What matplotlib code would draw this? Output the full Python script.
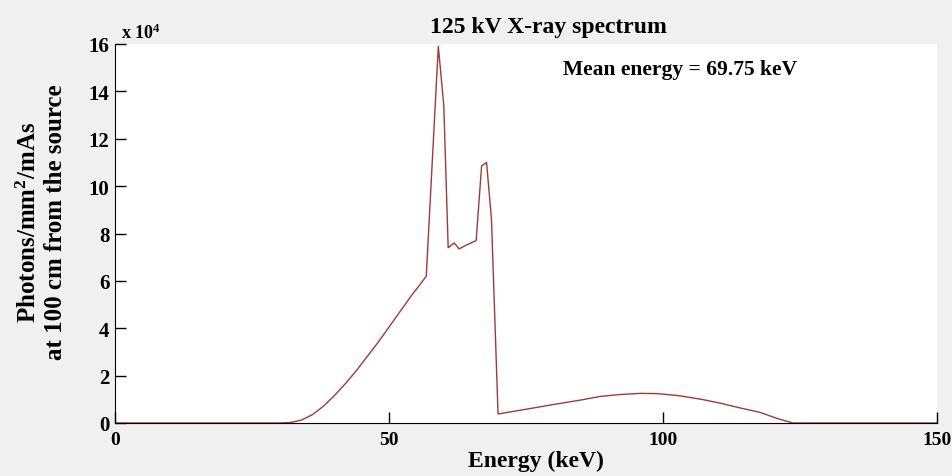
import matplotlib.pyplot as plt
from matplotlib.ticker import FuncFormatter

# 125 kV spectrum, photon fluence in units of 1e4 photons/mm^2/mAs
energy = [0, 30, 32, 34, 36, 38, 40, 42, 44, 46, 48, 50, 52, 54, 56, 56.8,
          59, 60, 60.8, 61.9, 62.8, 64, 65.9, 66.9, 67.8, 68.7, 69.9,
          75, 80, 85, 88.5, 92, 95.8, 99, 103, 107, 110.4, 114, 117.7,
          120.7, 123.7, 150]
fluence = [0, 0, 0.02, 0.12, 0.35, 0.7, 1.15, 1.65, 2.2, 2.8, 3.4, 4.05,
           4.7, 5.35, 5.95, 6.2,
           15.9, 13.4, 7.4, 7.6, 7.35, 7.5, 7.7, 10.85, 11.0, 8.6, 0.38,
           0.58, 0.78, 0.97, 1.12, 1.2, 1.25, 1.24, 1.15, 1.0, 0.84, 0.64,
           0.45, 0.2, 0.0, 0.0]

mean_energy = 69.75
xticks = [0, 50, 100, 150]
yticks = [0, 2, 4, 6, 8, 10, 12, 14, 16]

plt.rcParams['font.family'] = 'Liberation Serif'
plt.rcParams['font.weight'] = 'bold'
plt.rcParams['mathtext.fontset'] = 'custom'
plt.rcParams['mathtext.rm'] = 'Liberation Serif:bold'
plt.rcParams['mathtext.it'] = 'Liberation Serif:bold'
plt.rcParams['mathtext.bf'] = 'Liberation Serif:bold'

fig = plt.figure(figsize=(9.52, 4.77), dpi=100, facecolor='#f0f0f0')
ax = fig.add_axes([115 / 952, 1 - 424 / 477, 822 / 952, 379 / 477])

ax.plot(energy, fluence, color='#9e3a38', lw=1.0)

ax.set_xlim(0, 150)
ax.set_ylim(0, 16)
ax.set_xticks(xticks)
ax.set_yticks(yticks)
ax.yaxis.set_major_formatter(FuncFormatter(lambda v, p: f'{v:g}'))
ax.tick_params(direction='in', length=8, width=1, pad=4)
ax.tick_params(axis='y', labelsize=15)
ax.tick_params(axis='x', labelsize=14, pad=6)
for lab in ax.get_xticklabels() + ax.get_yticklabels():
    lab.set_fontweight('bold')

for side in ['top', 'right']:
    ax.spines[side].set_visible(False)

ax.text(0.007, 1.006, 'x 10$^4$', transform=ax.transAxes, fontsize=13,
        fontweight='bold', va='bottom', ha='left')

fig.text(548 / 952, 1 - 27 / 477, '125 kV X-ray spectrum', fontsize=17,
         fontweight='bold', ha='center', va='center')
ax.text(0.545, 0.935, f'Mean energy = {mean_energy:.2f} keV', transform=ax.transAxes,
        fontsize=15.5, fontweight='bold', ha='left', va='center')

ax.set_xlabel('Energy (keV)', fontsize=17, fontweight='bold', va='center')
ax.xaxis.set_label_coords(0.512, -0.1)
fig.text(42 / 952, 1 - 222 / 477, 'Photons/mm$^2$/mAs\nat 100 cm from the source',
         fontsize=18, fontweight='bold', rotation=90, ha='center', va='center',
         linespacing=1.15, multialignment='center')

fig.savefig('out.png', dpi=100, facecolor=fig.get_facecolor())
